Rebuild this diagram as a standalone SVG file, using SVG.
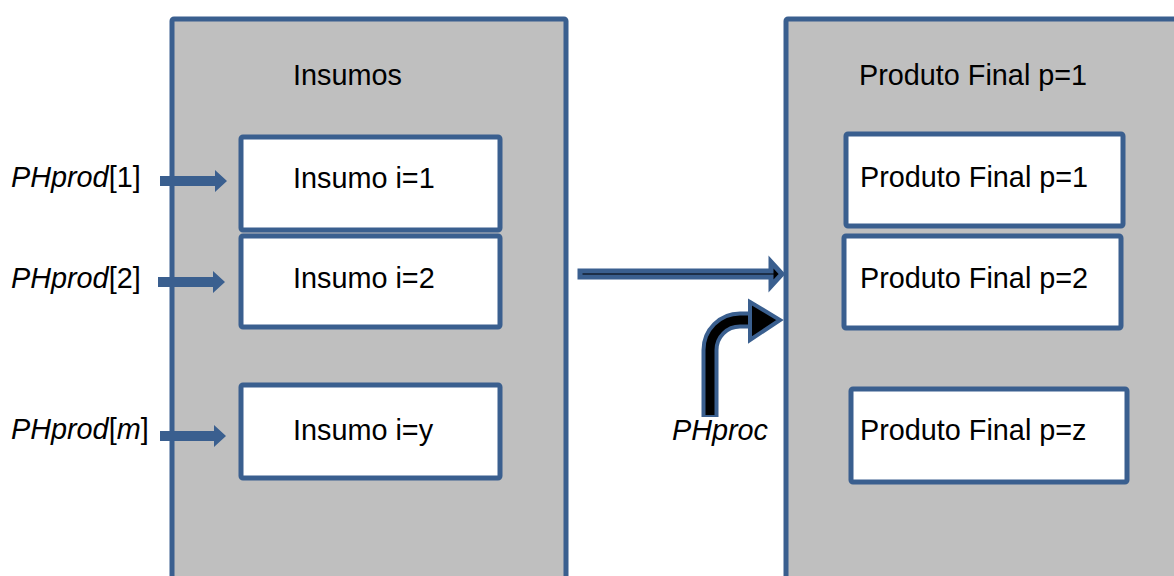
<svg xmlns="http://www.w3.org/2000/svg" width="1174" height="576" viewBox="0 0 1174 576">
  <style>
    .panel { fill: #bfbfbf; stroke: #3a5f8f; stroke-width: 5; }
    .box { fill: #ffffff; stroke: #3a5f8f; stroke-width: 5; }
    .txt { font-family: "Liberation Sans", Arial, sans-serif; font-size: 28.8px; fill: #000000; }
    .it { font-style: italic; }
    .feed { fill: #3a5f8f; }
  </style>
  <rect width="1174" height="576" fill="#ffffff"/>

  <!-- Insumos panel -->
  <g id="insumos">
    <rect class="panel" x="172" y="19" width="394" height="580" rx="2"/>
    <text class="txt" x="293" y="85">Insumos</text>
  </g>

  <!-- Produto final panel -->
  <g id="produtos">
    <rect class="panel" x="786" y="19" width="420" height="580" rx="2"/>
    <text class="txt" x="859" y="85">Produto Final p=1</text>
  </g>

  <g id="insumo1">
    <rect class="box" x="241" y="137" width="259" height="93" rx="2"/>
    <text class="txt" x="293" y="188">Insumo i=1</text>
  </g>
  <g id="insumo2">
    <rect class="box" x="241" y="236" width="259" height="91" rx="2"/>
    <text class="txt" x="293" y="288">Insumo i=2</text>
  </g>
  <g id="insumoy">
    <rect class="box" x="241" y="385" width="259" height="93" rx="2"/>
    <text class="txt" x="293" y="440">Insumo i=y</text>
  </g>

  <g id="produto1">
    <rect class="box" x="846" y="134" width="277" height="92" rx="2"/>
    <text class="txt" x="860" y="187">Produto Final p=1</text>
  </g>
  <g id="produto2">
    <rect class="box" x="844" y="236" width="277" height="92" rx="2"/>
    <text class="txt" x="860" y="288">Produto Final p=2</text>
  </g>
  <g id="produtoz">
    <rect class="box" x="851" y="389" width="276" height="93" rx="2"/>
    <text class="txt" x="860" y="440">Produto Final p=z</text>
  </g>

  <!-- price labels -->
  <g id="labels">
    <text class="txt" x="11" y="187"><tspan class="it">PHprod</tspan>[1]</text>
    <text class="txt" x="11" y="288"><tspan class="it">PHprod</tspan>[2]</text>
    <text class="txt" x="11" y="439"><tspan class="it">PHprod</tspan>[<tspan class="it">m</tspan>]</text>
    <text class="txt it" x="672" y="440">PHproc</text>
  </g>

  <!-- connectors -->
  <g id="connectors">
    <polygon class="feed" points="160,176 215,176 215,170 227,181 215,192 215,186 160,186"/>
    <polygon class="feed" points="158,277 213,277 213,271 225,282 213,293 213,287 158,287"/>
    <polygon class="feed" points="160,431 214,431 214,425 226,436 214,447 214,441 160,441"/>

    <!-- flow from Insumos to Produto Final -->
    <polygon points="580,271 771,271 771,262 782,274 771,286 771,277 580,277" fill="#000000" stroke="#3a5f8f" stroke-width="5" stroke-linejoin="miter"/>

    <!-- process price bent arrow -->
    <path d="M710,417 V350 A30,30 0 0 1 740,320 H754" fill="none" stroke="#3a5f8f" stroke-width="17"/>
    <path d="M710,415 V350 A30,30 0 0 1 740,320 H756" fill="none" stroke="#000000" stroke-width="9"/>
    <polygon points="750,302 780,320 750,340" fill="#000000" stroke="#3a5f8f" stroke-width="4" stroke-linejoin="miter"/>
  </g>
</svg>
